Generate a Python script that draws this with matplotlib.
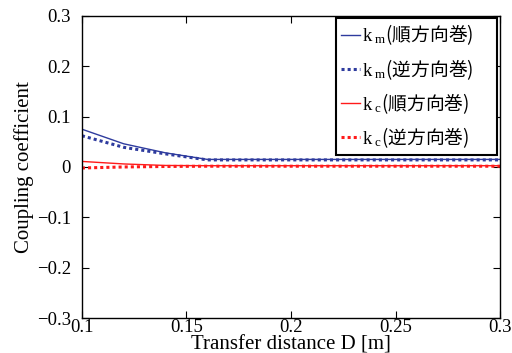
import numpy as np
import matplotlib
matplotlib.use("Agg")
import matplotlib.pyplot as plt

plt.rcParams['font.family'] = ['Liberation Serif', 'Noto Sans CJK JP']
plt.rcParams['mathtext.fontset'] = 'custom'
plt.rcParams['mathtext.rm'] = 'Liberation Serif'
plt.rcParams['mathtext.it'] = 'Liberation Serif'

# transfer distance [m]
distance = [0.10, 0.12, 0.14, 0.16, 0.18, 0.20, 0.22, 0.24, 0.26, 0.28, 0.30]
km_forward = [0.075, 0.046, 0.028, 0.015, 0.015, 0.015, 0.015, 0.015, 0.015, 0.015, 0.015]
km_reverse = [0.062, 0.039, 0.026, 0.014, 0.014, 0.014, 0.014, 0.014, 0.014, 0.014, 0.014]
kc_forward = [0.011, 0.006, 0.003, 0.0025, 0.0025, 0.0025, 0.0025, 0.0025, 0.0025, 0.0025, 0.0025]
kc_reverse = [-0.002, 0.000, 0.001, 0.0015, 0.0015, 0.0015, 0.0015, 0.0015, 0.0015, 0.0015, 0.0015]

labels = [r'$\mathrm{k}_{\ \mathrm{m}}$(順方向巻)',
          r'$\mathrm{k}_{\ \mathrm{m}}$(逆方向巻)',
          r'$\mathrm{k}_{\ \mathrm{c}}$(順方向巻)',
          r'$\mathrm{k}_{\ \mathrm{c}}$(逆方向巻)']

fig = plt.figure(figsize=(5.12, 3.53), dpi=100)
ax = fig.add_axes([0.160, 0.099, 0.817, 0.856])

blue = '#2e3b9e'
red = '#ff1a1a'
ax.plot(distance, km_forward, color=blue, lw=1.0, label=labels[0])
ax.plot(distance, km_reverse, color=blue, lw=2.2, ls=(0, (1, 1)), label=labels[1])
ax.plot(distance, kc_forward, color=red, lw=1.0, label=labels[2])
ax.plot(distance, kc_reverse, color=red, lw=2.2, ls=(0, (1, 1)), label=labels[3])

ax.set_xlim(0.1, 0.3)
ax.set_ylim(-0.3, 0.3)
ax.set_xticks([0.1, 0.15, 0.2, 0.25, 0.3])
ax.set_xticklabels(['0.1', '0.15', '0.2', '0.25', '0.3'])
ax.set_yticks([-0.3, -0.2, -0.1, 0, 0.1, 0.2, 0.3])
ax.set_yticklabels(['\u22120.3', '\u22120.2', '\u22120.1', '0', '0.1', '0.2', '0.3'])
ax.tick_params(axis='both', direction='in', top=True, right=True, labelsize=13.5, length=5)
ax.tick_params(axis='y', pad=8)
ax.tick_params(axis='x', pad=1)
for s in ax.spines.values():
    s.set_linewidth(1.0)

ax.set_xlabel('Transfer distance D [m]', fontsize=15, labelpad=-1)
ax.set_ylabel('Coupling coefficient', fontsize=15, labelpad=2)

# legend box is wider than its text, as in the original figure
leg = ax.legend(loc='upper right', prop={'family': 'Noto Sans CJK JP', 'size': 13.5},
                bbox_to_anchor=(0.608, 0.0, 0.385, 0.993), mode='expand',
                frameon=True, fancybox=False, framealpha=1,
                handlelength=1.0, handletextpad=0.1, borderaxespad=0.0,
                labelspacing=0.5, borderpad=0.25)
leg.get_frame().set_edgecolor('black')
leg.get_frame().set_linewidth(1.5)

fig.savefig('out.png', dpi=100)
